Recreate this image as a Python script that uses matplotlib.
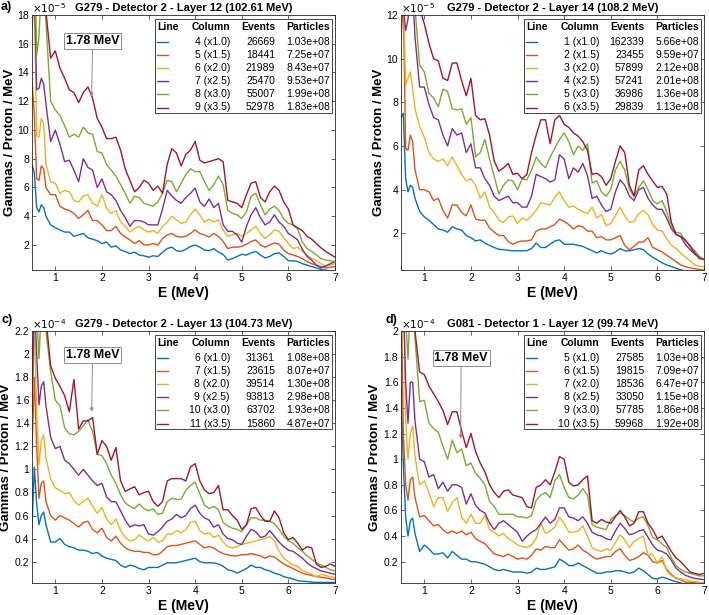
import matplotlib
matplotlib.use("Agg")
import matplotlib.pyplot as plt
from matplotlib.lines import Line2D
from matplotlib.patches import Rectangle
from matplotlib.ticker import FuncFormatter

plt.rcParams['font.family'] = ['Liberation Sans', 'DejaVu Sans']

# energy grid (MeV), shared by every spectrum
energy = [0.5, 0.55, 0.6, 0.65, 0.7, 0.75, 0.8,
          0.9, 1.0, 1.1, 1.2, 1.3, 1.4, 1.5, 1.6, 1.7, 1.8, 1.9, 2.0,
          2.1, 2.2, 2.3, 2.4, 2.5, 2.6, 2.7, 2.8, 2.9, 3.0,
          3.1, 3.2, 3.3, 3.4, 3.5, 3.6, 3.7, 3.8, 3.9, 4.0,
          4.1, 4.2, 4.3, 4.4, 4.5, 4.6, 4.7, 4.8, 4.9, 5.0,
          5.1, 5.2, 5.3, 5.4, 5.5, 5.6, 5.7, 5.8, 5.9, 6.0,
          6.1, 6.2, 6.3, 6.4, 6.5, 6.6, 6.7, 6.8, 6.9, 7.0]

colors = ['#0072BD', '#D95319', '#EDB120', '#7E2F8E', '#77AC30', '#A2142F']
factors = ['x1.0', 'x1.5', 'x2.0', 'x2.5', 'x3.0', 'x3.5']

# ---------------------------------------------------------------- a) x1e-5
a_lines = [4, 5, 6, 7, 8, 9]
a_events = [26669, 18441, 21989, 25470, 55007, 52978]
a_particles = [1.03e8, 7.25e7, 8.43e7, 9.53e7, 1.99e8, 1.83e8]
a_l4 = [7.6, 7.0, 4.6, 4.3, 4.8, 4.6, 4.0,
        3.4, 3.2, 3.05, 2.9, 2.9, 2.6, 2.7, 2.8, 2.5, 2.4, 2.3, 2.1,
        2.2, 1.85, 1.95, 1.65, 1.55, 1.4, 1.5, 1.3, 1.25, 1.15,
        1.25, 1.2, 1.5, 1.75, 1.85, 1.6, 1.55, 1.7, 1.9, 2.0,
        1.85, 1.65, 1.6, 1.75, 1.5, 1.35, 0.95, 1.05, 1.2, 1.35,
        1.3, 1.45, 1.55, 1.3, 1.1, 1.2, 1.4, 1.45, 1.2, 0.9,
        0.9, 0.85, 0.7, 0.6, 0.5, 0.4, 0.3, 0.25, 0.2, 0.15]
a_l5 = [13.5, 11.0, 6.6, 6.5, 7.5, 7.3, 6.0,
        5.5, 5.5, 4.7, 4.5, 4.4, 4.2, 3.85, 4.1, 4.4, 3.7, 3.7, 3.4,
        3.0, 3.0, 3.3, 2.8, 2.55, 2.35, 2.1, 2.3, 2.0, 2.0,
        2.1, 2.0, 2.45, 2.7, 2.8, 2.6, 2.55, 2.6, 2.8, 3.05,
        2.8, 2.7, 2.55, 2.8, 2.6, 2.25, 1.75, 1.85, 1.85, 1.9,
        2.05, 2.25, 2.35, 2.0, 1.85, 2.0, 2.15, 2.05, 1.65, 1.4,
        1.3, 1.2, 1.05, 0.85, 0.7, 0.6, 0.5, 0.4, 0.45, 0.5]
a_l6 = [17.0, 19.0, 9.6, 9.5, 10.8, 10.4, 7.6,
        6.4, 6.3, 5.6, 5.8, 5.7, 5.1, 5.0, 5.4, 5.5, 4.9, 4.7, 5.5,
        4.55, 4.2, 4.4, 3.6, 3.3, 2.9, 3.15, 3.3, 3.05, 2.9,
        3.0, 2.8, 3.3, 3.6, 4.0, 3.75, 3.5, 3.6, 4.1, 4.5,
        4.1, 3.6, 3.8, 3.6, 3.75, 3.05, 2.6, 2.7, 2.8, 2.6,
        2.8, 3.05, 3.3, 2.8, 2.45, 2.7, 3.05, 2.95, 2.5, 2.1,
        1.75, 1.85, 1.55, 1.3, 1.05, 0.95, 0.7, 0.5, 0.6, 0.7]
a_l7 = [22.0, 20.0, 12.8, 12.9, 13.6, 13.2, 11.8,
        9.2, 10.0, 9.0, 7.8, 7.9, 7.2, 6.4, 8.0, 7.4, 7.2, 6.0, 6.6,
        5.7, 5.5, 5.1, 4.4, 3.9, 3.3, 3.7, 3.7, 3.6, 3.4,
        3.4, 3.4, 4.5, 5.8, 5.4, 5.1, 4.9, 5.3, 5.6, 5.95,
        5.0, 4.7, 5.2, 4.6, 4.9, 3.4, 2.95, 2.95, 2.7, 2.2,
        3.3, 4.1, 4.6, 3.9, 3.4, 3.6, 4.1, 3.6, 3.3, 2.8,
        2.6, 2.35, 1.7, 1.2, 0.95, 0.6, 0.4, 0.55, 0.7, 0.85]
a_l8 = [26.0, 24.0, 15.2, 16.5, 20.0, 20.0, 17.5,
        12.0, 11.4, 11.0, 10.3, 9.5, 9.7, 9.5, 10.2, 9.8, 9.7, 8.5, 8.4,
        7.6, 7.2, 6.8, 6.2, 5.6, 4.9, 5.4, 5.3, 4.9, 4.8,
        4.7, 5.0, 5.6, 6.5, 6.4, 5.7, 6.3, 6.9, 7.3, 7.1,
        7.1, 6.4, 5.8, 6.2, 6.8, 6.2, 4.4, 4.2, 4.1, 3.85,
        4.3, 5.4, 5.6, 4.8, 4.1, 4.5, 4.7, 4.4, 3.8, 3.5,
        3.4, 3.1, 2.2, 1.75, 1.55, 1.3, 1.05, 0.95, 0.9, 0.85]
a_l9 = [30.0, 28.0, 26.0, 25.0, 23.0, 21.0, 18.2,
        15.0, 15.5, 14.3, 13.6, 12.8, 12.6, 11.9, 12.6, 13.0, 12.2, 10.8, 10.2,
        9.4, 9.4, 9.5, 8.6, 7.3, 6.5, 5.7, 6.0, 6.5, 6.3,
        5.8, 6.1, 5.6, 7.6, 8.7, 8.4, 7.5, 8.3, 8.6, 9.2,
        7.9, 7.7, 7.8, 7.9, 8.0, 7.8, 5.1, 5.0, 4.9, 4.6,
        5.5, 6.3, 6.4, 5.3, 5.0, 5.7, 6.1, 5.8, 5.0, 4.5,
        3.4, 3.2, 3.0, 2.6, 2.4, 2.1, 1.8, 1.55, 1.35, 1.15]

# ---------------------------------------------------------------- b) x1e-5
b_lines = [1, 2, 3, 4, 5, 6]
b_events = [162339, 23455, 57899, 57241, 36986, 29839]
b_particles = [5.66e8, 9.59e7, 2.12e8, 2.01e8, 1.36e8, 1.13e8]
b_l1 = [7.3, 7.5, 4.5, 3.9, 4.2, 4.1, 3.6,
        3.0, 2.75, 2.6, 2.4, 2.2, 2.15, 2.05, 2.3, 2.2, 2.15, 1.9, 1.8,
        1.65, 1.7, 1.55, 1.45, 1.35, 1.27, 1.25, 1.22, 1.2, 1.2,
        1.2, 1.2, 1.3, 1.55, 1.35, 1.35, 1.5, 1.65, 1.7, 1.5,
        1.5, 1.5, 1.45, 1.4, 1.3, 1.2, 1.1, 1.2, 1.1, 1.05,
        1.15, 1.3, 1.2, 1.2, 1.25, 1.3, 1.25, 1.05, 0.9, 0.78,
        0.65, 0.55, 0.48, 0.4, 0.33, 0.28, 0.25, 0.22, 0.2, 0.18]
b_l2 = [11.0, 12.5, 5.9, 5.8, 6.5, 6.2, 4.9,
        4.0, 4.0, 3.9, 3.5, 3.6, 3.05, 2.7, 3.3, 3.3, 2.95, 2.8, 3.3,
        2.65, 2.6, 2.6, 2.25, 2.05, 1.9, 1.9, 1.62, 1.5, 1.6,
        1.65, 1.65, 1.7, 2.1, 2.2, 2.2, 2.3, 2.4, 2.65, 2.55,
        2.4, 2.2, 2.35, 2.3, 2.1, 2.1, 1.8, 1.85, 1.7, 1.7,
        1.8, 1.9, 1.45, 1.25, 1.4, 1.6, 1.6, 1.8, 1.35, 1.25,
        1.15, 1.0, 0.85, 0.7, 0.55, 0.47, 0.42, 0.38, 0.34, 0.32]
b_l3 = [15.0, 13.0, 8.8, 9.1, 9.4, 8.6, 7.7,
        6.9, 6.4, 5.7, 5.4, 5.3, 5.4, 5.1, 5.5, 5.1, 4.7, 4.4, 4.5,
        4.2, 3.6, 3.9, 3.2, 2.95, 2.6, 2.5, 2.75, 2.8, 2.45,
        2.7, 2.6, 2.8, 3.05, 3.4, 3.35, 3.3, 3.65, 3.9, 3.5,
        3.2, 3.25, 3.1, 3.0, 2.9, 3.2, 2.7, 2.85, 2.35, 2.45,
        2.8, 3.2, 2.8, 2.5, 2.55, 2.9, 3.05, 2.85, 2.4, 2.15,
        2.1, 1.75, 1.45, 1.3, 1.1, 0.9, 0.75, 0.55, 0.5, 0.47]
b_l4 = [18.0, 12.3, 11.3, 11.8, 13.0, 13.0, 11.0,
        8.7, 8.7, 7.9, 7.3, 7.2, 6.5, 6.0, 6.8, 6.5, 6.6, 5.7, 6.1,
        5.0, 5.0, 4.5, 4.2, 3.7, 3.5, 3.6, 3.7, 3.4, 3.4,
        3.2, 3.2, 3.7, 4.7, 4.6, 4.5, 4.35, 4.45, 5.6, 5.4,
        4.5, 5.0, 4.8, 5.2, 4.65, 3.6, 3.7, 3.3, 3.0, 3.1,
        3.9, 4.45, 4.2, 3.7, 3.5, 4.0, 4.1, 3.6, 3.3, 3.1,
        3.1, 2.7, 2.2, 1.95, 1.85, 1.5, 1.25, 1.05, 0.9, 0.8]
b_l5 = [24.0, 22.0, 20.0, 18.0, 16.0, 14.5, 12.3,
        9.7, 9.4, 8.4, 8.2, 7.8, 8.6, 8.5, 7.7, 7.65, 7.7, 7.0, 7.3,
        5.5, 5.7, 6.3, 5.4, 4.6, 3.8, 4.2, 4.45, 4.4, 4.0,
        4.5, 4.45, 4.9, 5.5, 5.2, 5.0, 5.5, 5.9, 6.3, 6.6,
        6.2, 5.6, 6.0, 5.8, 6.1, 4.3, 4.4, 3.9, 3.7, 4.0,
        4.9, 5.3, 4.9, 4.0, 3.7, 4.1, 4.4, 4.0, 3.5, 3.35,
        3.5, 3.0, 2.3, 2.05, 2.0, 1.65, 1.45, 1.2, 0.95, 0.8]
b_l6 = [30.0, 28.0, 26.0, 24.0, 22.0, 20.0, 16.0,
        12.3, 11.6, 10.7, 10.0, 9.9, 9.1, 9.0, 9.8, 9.8, 9.0, 8.3, 9.1,
        7.4, 7.2, 7.25, 6.5, 5.3, 4.85, 5.0, 5.2, 4.7, 4.75,
        4.5, 4.7, 5.7, 6.5, 7.2, 7.2, 6.1, 7.2, 7.4, 7.0,
        6.85, 6.6, 6.45, 6.2, 5.8, 4.7, 4.75, 4.6, 4.2, 4.5,
        5.3, 6.0, 5.7, 4.2, 3.7, 4.9, 5.1, 4.7, 4.4, 4.1,
        4.15, 3.8, 2.5, 1.95, 1.85, 1.7, 1.4, 1.1, 0.85, 0.8]

# ---------------------------------------------------------------- c) x1e-4
c_lines = [6, 7, 8, 9, 10, 11]
c_events = [31361, 23615, 39514, 93813, 63702, 15860]
c_particles = [1.08e8, 8.07e7, 1.30e8, 2.98e8, 1.93e8, 4.87e7]
c_l6 = [0.5, 1.02, 0.7, 0.52, 0.6, 0.63, 0.52,
        0.37, 0.37, 0.4, 0.35, 0.33, 0.32, 0.3, 0.3, 0.29, 0.27, 0.28, 0.25,
        0.23, 0.22, 0.21, 0.17, 0.15, 0.17, 0.16, 0.14, 0.13, 0.15,
        0.15, 0.15, 0.17, 0.19, 0.19, 0.19, 0.2, 0.21, 0.22, 0.23,
        0.2, 0.19, 0.19, 0.19, 0.18, 0.16, 0.13, 0.12, 0.1, 0.12,
        0.14, 0.17, 0.15, 0.15, 0.13, 0.12, 0.1, 0.09, 0.07, 0.06,
        0.05, 0.035, 0.03, 0.028, 0.022, 0.02, 0.02, 0.02, 0.02, 0.02]
c_l7 = [1.15, 1.8, 1.2, 0.75, 0.88, 0.9, 0.72,
        0.6, 0.56, 0.6, 0.58, 0.56, 0.53, 0.5, 0.54, 0.55, 0.48, 0.45, 0.49,
        0.41, 0.38, 0.42, 0.36, 0.32, 0.3, 0.29, 0.29, 0.28, 0.28,
        0.26, 0.26, 0.29, 0.33, 0.34, 0.34, 0.35, 0.36, 0.37, 0.38,
        0.35, 0.32, 0.33, 0.32, 0.29, 0.27, 0.26, 0.25, 0.25, 0.26,
        0.26, 0.27, 0.26, 0.25, 0.23, 0.25, 0.24, 0.21, 0.18, 0.16,
        0.14, 0.12, 0.1, 0.09, 0.08, 0.07, 0.065, 0.06, 0.05, 0.045]
c_l8 = [1.4, 2.3, 1.5, 1.04, 1.25, 1.3, 1.1,
        0.92, 0.84, 0.82, 0.79, 0.8, 0.73, 0.69, 0.72, 0.75, 0.68, 0.62, 0.67,
        0.57, 0.52, 0.57, 0.47, 0.41, 0.38, 0.39, 0.43, 0.4, 0.38,
        0.41, 0.37, 0.38, 0.44, 0.44, 0.47, 0.45, 0.48, 0.54, 0.55,
        0.47, 0.44, 0.45, 0.41, 0.43, 0.37, 0.33, 0.32, 0.33, 0.35,
        0.36, 0.37, 0.38, 0.39, 0.4, 0.42, 0.38, 0.29, 0.23, 0.2,
        0.17, 0.16, 0.12, 0.11, 0.09, 0.07, 0.09, 0.08, 0.07, 0.06]
c_l9 = [1.5, 2.5, 2.0, 1.56, 1.72, 1.76, 1.55,
        1.28, 1.18, 1.2, 1.08, 1.05, 1.0, 0.95, 1.0, 0.95, 0.9, 0.86, 0.88,
        0.76, 0.72, 0.72, 0.64, 0.56, 0.5, 0.52, 0.51, 0.52, 0.44,
        0.43, 0.46, 0.5, 0.55, 0.57, 0.61, 0.58, 0.6, 0.66, 0.69,
        0.62, 0.58, 0.56, 0.5, 0.52, 0.44, 0.4, 0.39, 0.36, 0.35,
        0.42, 0.48, 0.46, 0.41, 0.42, 0.47, 0.42, 0.37, 0.33, 0.3,
        0.29, 0.26, 0.23, 0.19, 0.16, 0.14, 0.12, 0.11, 0.1, 0.09]
c_l10 = [2.5, 2.6, 2.4, 1.96, 2.4, 2.5, 2.2,
         1.85, 1.6, 1.55, 1.36, 1.31, 1.3, 1.33, 1.38, 1.43, 1.33, 1.13, 1.12,
         1.05, 0.95, 0.88, 0.78, 0.71, 0.68, 0.66, 0.7, 0.66, 0.64,
         0.66, 0.61, 0.62, 0.72, 0.75, 0.74, 0.74, 0.82, 0.86, 0.89,
         0.79, 0.69, 0.66, 0.68, 0.65, 0.54, 0.51, 0.49, 0.48, 0.46,
         0.52, 0.58, 0.58, 0.56, 0.56, 0.55, 0.53, 0.48, 0.42, 0.38,
         0.36, 0.32, 0.29, 0.25, 0.22, 0.19, 0.17, 0.15, 0.13, 0.12]
c_l11 = [3.0, 3.0, 2.9, 2.8, 2.7, 2.6, 2.3,
         1.9, 1.79, 1.72, 1.64, 1.5, 1.78, 1.35, 1.42, 1.42, 1.45, 1.13, 1.25,
         1.2, 1.08, 1.19, 0.9, 0.81, 0.83, 0.85, 0.78, 0.8, 0.81,
         0.72, 0.68, 0.72, 0.9, 0.92, 0.92, 0.92, 0.9, 1.02, 1.05,
         0.9, 0.82, 0.79, 0.8, 0.86, 0.65, 0.65, 0.6, 0.56, 0.48,
         0.52, 0.66, 0.67, 0.6, 0.55, 0.55, 0.64, 0.58, 0.45, 0.39,
         0.41, 0.36, 0.3, 0.33, 0.32, 0.18, 0.15, 0.16, 0.18, 0.16]

# ---------------------------------------------------------------- d) x1e-4
d_lines = [5, 6, 7, 8, 9, 10]
d_events = [27585, 19815, 18536, 33050, 57785, 59968]
d_particles = [1.03e8, 7.09e7, 6.47e7, 1.15e8, 1.86e8, 1.92e8]
d_l5 = [1.56, 0.95, 0.55, 0.4, 0.52, 0.54, 0.42,
        0.28, 0.33, 0.3, 0.26, 0.26, 0.27, 0.23, 0.28, 0.25, 0.22, 0.22, 0.2,
        0.2, 0.19, 0.18, 0.16, 0.14, 0.13, 0.14, 0.13, 0.12, 0.12,
        0.12, 0.11, 0.12, 0.15, 0.14, 0.14, 0.15, 0.16, 0.22, 0.2,
        0.17, 0.17, 0.19, 0.17, 0.15, 0.13, 0.11, 0.11, 0.12, 0.12,
        0.13, 0.13, 0.12, 0.11, 0.12, 0.15, 0.13, 0.1, 0.07, 0.065,
        0.08, 0.07, 0.055, 0.045, 0.035, 0.025, 0.02, 0.02, 0.02, 0.02]
d_l6 = [2.4, 1.2, 0.8, 0.68, 0.84, 0.86, 0.7,
        0.55, 0.56, 0.52, 0.48, 0.49, 0.45, 0.42, 0.44, 0.42, 0.44, 0.41, 0.43,
        0.38, 0.36, 0.34, 0.3, 0.26, 0.25, 0.24, 0.26, 0.24, 0.22,
        0.23, 0.22, 0.25, 0.3, 0.29, 0.32, 0.31, 0.31, 0.37, 0.33,
        0.29, 0.3, 0.33, 0.29, 0.27, 0.24, 0.22, 0.23, 0.24, 0.24,
        0.28, 0.3, 0.25, 0.21, 0.22, 0.24, 0.27, 0.25, 0.2, 0.19,
        0.21, 0.14, 0.1, 0.07, 0.06, 0.04, 0.04, 0.035, 0.035, 0.035]
d_l7 = [2.5, 2.3, 1.3, 1.0, 1.2, 1.26, 1.02,
        0.8, 0.83, 0.74, 0.63, 0.7, 0.7, 0.59, 0.66, 0.7, 0.55, 0.5, 0.57,
        0.5, 0.5, 0.56, 0.45, 0.43, 0.4, 0.42, 0.38, 0.36, 0.33,
        0.32, 0.31, 0.33, 0.38, 0.5, 0.42, 0.44, 0.47, 0.55, 0.5,
        0.43, 0.43, 0.44, 0.48, 0.4, 0.31, 0.29, 0.28, 0.3, 0.29,
        0.35, 0.41, 0.37, 0.31, 0.36, 0.38, 0.4, 0.25, 0.26, 0.19,
        0.24, 0.13, 0.09, 0.075, 0.065, 0.06, 0.05, 0.045, 0.04, 0.03]
d_l8 = [2.5, 2.3, 1.6, 1.28, 1.6, 1.6, 1.3,
        1.0, 0.98, 0.86, 0.88, 0.77, 0.82, 0.75, 0.8, 0.8, 0.78, 0.65, 0.73,
        0.64, 0.6, 0.58, 0.5, 0.45, 0.5, 0.52, 0.49, 0.46, 0.43,
        0.36, 0.4, 0.43, 0.45, 0.5, 0.55, 0.5, 0.53, 0.62, 0.62,
        0.55, 0.54, 0.52, 0.55, 0.5, 0.43, 0.41, 0.4, 0.38, 0.37,
        0.44, 0.5, 0.46, 0.41, 0.42, 0.44, 0.45, 0.39, 0.33, 0.29,
        0.28, 0.26, 0.21, 0.15, 0.12, 0.095, 0.08, 0.07, 0.065, 0.06]
d_l9 = [2.6, 2.5, 2.1, 1.78, 2.2, 2.3, 1.95,
        1.45, 1.46, 1.28, 1.24, 1.21, 1.1, 1.0, 1.15, 1.05, 1.08, 0.95, 0.97,
        0.89, 0.85, 0.8, 0.67, 0.63, 0.57, 0.57, 0.57, 0.57, 0.55,
        0.55, 0.54, 0.56, 0.68, 0.72, 0.74, 0.7, 0.83, 0.88, 0.78,
        0.7, 0.69, 0.72, 0.77, 0.72, 0.49, 0.47, 0.46, 0.45, 0.53,
        0.56, 0.58, 0.56, 0.53, 0.51, 0.54, 0.55, 0.48, 0.39, 0.37,
        0.34, 0.31, 0.23, 0.17, 0.14, 0.12, 0.11, 0.1, 0.09, 0.09]
d_l10 = [3.0, 2.9, 2.8, 2.7, 2.6, 2.4, 2.0,
         1.68, 1.66, 1.57, 1.51, 1.45, 1.38, 1.27, 1.37, 1.37, 1.22, 1.09, 1.2,
         1.06, 0.97, 0.9, 0.8, 0.74, 0.7, 0.75, 0.76, 0.72, 0.71,
         0.7, 0.63, 0.62, 0.78, 0.8, 0.84, 0.8, 0.9, 1.02, 1.0,
         0.82, 0.79, 0.8, 0.84, 0.87, 0.52, 0.5, 0.53, 0.51, 0.5,
         0.55, 0.6, 0.55, 0.48, 0.5, 0.59, 0.59, 0.5, 0.45, 0.38,
         0.4, 0.34, 0.28, 0.23, 0.2, 0.16, 0.12, 0.11, 0.1, 0.11]

DARK = '#262626'
GREY = '#8c8c8c'


def draw_table(ax, lines, events, particles):
    # MATLAB style table legend, laid out in pixels from the axes top-right corner
    bb = ax.get_window_extent()
    W, H = bb.width, bb.height

    def fx(dx):
        return 1 + dx / W

    def fy(dy):
        return 1 - dy / H

    ax.add_patch(Rectangle((fx(-180), fy(98)), 177 / W, 94 / H, transform=ax.transAxes,
                           fc='white', ec=DARK, lw=0.6, zorder=5))
    kw = dict(transform=ax.transAxes, fontsize=7.5, va='center', zorder=6, color='black')
    hy = fy(12)
    ax.text(fx(-178), hy, 'Line', ha='left', fontweight='bold', **kw)
    ax.text(fx(-105), hy, 'Column', ha='right', fontweight='bold', **kw)
    ax.text(fx(-60), hy, 'Events', ha='right', fontweight='bold', **kw)
    ax.text(fx(-5), hy, 'Particles', ha='right', fontweight='bold', **kw)
    for i, (ln, fac, ev, pa, col) in enumerate(zip(lines, factors, events, particles, colors)):
        y = fy(27 + 13.1 * i)
        ax.add_line(Line2D([fx(-178), fx(-167)], [y, y], transform=ax.transAxes,
                           color=col, lw=1.0, zorder=6))
        ax.text(fx(-105), y, f'{ln} ({fac})', ha='right', **kw)
        ax.text(fx(-60), y, f'{ev}', ha='right', **kw)
        ax.text(fx(-5), y, f'{pa:.2e}', ha='right', **kw)


def draw_panel(ax, series, title, ylim, yticks, expo, table, label_x, note=None):
    for vals, col in zip(series, colors):
        ax.plot(energy, vals, color=col, lw=1.0)
    ax.set_xlim(0.5, 7)
    ax.set_ylim(*ylim)
    ax.set_xticks(range(1, 8))
    ax.set_yticks(yticks)
    ax.yaxis.set_major_formatter(FuncFormatter(lambda v, p: f'{v:g}'))
    ax.tick_params(direction='in', top=True, right=True, length=3, width=0.5,
                   labelsize=7.5, pad=2, colors=DARK, labelcolor='black')
    for s in ax.spines.values():
        s.set_color(DARK)
        s.set_linewidth(0.6)
    ax.set_title(title, fontsize=8, fontweight='bold', pad=3)
    ax.set_xlabel('E (MeV)', fontsize=10, fontweight='bold', labelpad=2)
    ax.set_ylabel('Gammas / Proton / MeV', fontsize=9.5, fontweight='bold')
    ax.yaxis.set_label_coords(label_x / 303, 0.5)
    H = ax.get_window_extent().height
    ax.text(0.0, 1 + 2 / H, r'$\times10^{%d}$' % expo, transform=ax.transAxes,
            ha='left', va='baseline', fontsize=7.5)
    draw_table(ax, *table)
    if note is not None:
        ax.annotate('1.78 MeV', xy=note[0], xytext=note[1], ha='center', va='center',
                    fontsize=9, fontweight='bold', zorder=7,
                    bbox=dict(boxstyle='square,pad=0.15', fc='white', ec=GREY, lw=0.7),
                    arrowprops=dict(arrowstyle='-|>', color=GREY, lw=0.7,
                                    mutation_scale=5, shrinkA=0, shrinkB=0))


fig = plt.figure(figsize=(7.09, 6.15), dpi=100)
ax_a = fig.add_axes([32 / 709, 1 - 270 / 615, 303 / 709, 255 / 615])
ax_b = fig.add_axes([401 / 709, 1 - 270 / 615, 303 / 709, 255 / 615])
ax_c = fig.add_axes([32 / 709, 1 - 583 / 615, 303 / 709, 252 / 615])
ax_d = fig.add_axes([401 / 709, 1 - 583 / 615, 303 / 709, 252 / 615])

draw_panel(ax_a, [a_l4, a_l5, a_l6, a_l7, a_l8, a_l9],
           'G279 - Detector 2 - Layer 12 (102.61 MeV)', (0.26, 18), range(2, 19, 2), -5,
           (a_lines, a_events, a_particles), -16, note=((1.78, 12.3), (1.8, 16.2)))
draw_panel(ax_b, [b_l1, b_l2, b_l3, b_l4, b_l5, b_l6],
           'G279 - Detector 2 - Layer 14 (108.2 MeV)', (0.32, 12), range(2, 13, 2), -5,
           (b_lines, b_events, b_particles), -16)
draw_panel(ax_c, [c_l6, c_l7, c_l8, c_l9, c_l10, c_l11],
           'G279 - Detector 2 - Layer 13 (104.73 MeV)', (0.015, 2.2),
           [0.2, 0.4, 0.6, 0.8, 1.0, 1.2, 1.4, 1.6, 1.8, 2.0, 2.2], -4,
           (c_lines, c_events, c_particles), -20, note=((1.78, 1.5), (1.8, 1.99)))
draw_panel(ax_d, [d_l5, d_l6, d_l7, d_l8, d_l9, d_l10],
           'G081 - Detector 1 - Layer 12 (99.74 MeV)', (0.034, 2.0),
           [0.2, 0.4, 0.6, 0.8, 1.0, 1.2, 1.4, 1.6, 1.8, 2.0], -4,
           (d_lines, d_events, d_particles), -20, note=((1.78, 1.16), (1.79, 1.79)))

for tag, x, y in [('a)', 1, 7), ('c)', 1, 320), ('d)', 385, 320)]:
    fig.text(x / 709, 1 - y / 615, tag, fontsize=9, fontweight='bold', ha='left', va='center')

fig.savefig('out.png', dpi=100)
